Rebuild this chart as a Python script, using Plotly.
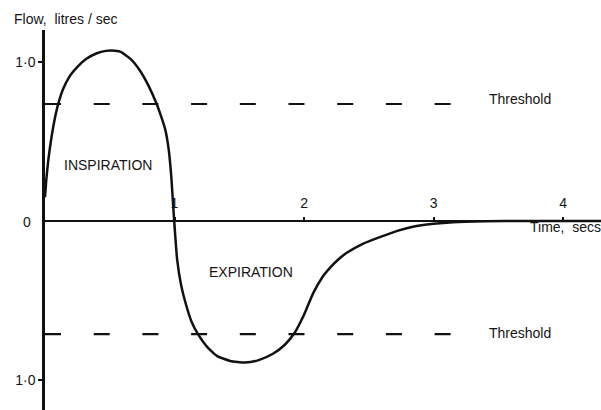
import plotly.graph_objects as go

# Flow-time curve (time in s, flow in litres/sec; expiration negative)
time_s = [0.0, 0.01, 0.025, 0.045, 0.07, 0.1, 0.14, 0.19, 0.25, 0.32, 0.4, 0.47, 0.515,
          0.58, 0.66, 0.73, 0.8, 0.86, 0.9, 0.93, 0.955, 0.975, 0.995, 1.02, 1.05, 1.08,
          1.13, 1.18, 1.25, 1.33, 1.43, 1.545, 1.65, 1.76, 1.85, 1.93, 2.0, 2.07, 2.14,
          2.2, 2.26, 2.33, 2.45, 2.59, 2.72, 2.84, 3.0, 3.15, 3.4, 3.7, 4.3]
flow = [0.15, 0.26, 0.38, 0.5, 0.62, 0.73, 0.83, 0.91, 0.97, 1.02, 1.055, 1.07, 1.072,
        1.065, 1.02, 0.95, 0.85, 0.74, 0.65, 0.57, 0.45, 0.28, 0.03, -0.24, -0.40, -0.50,
        -0.63, -0.71, -0.79, -0.85, -0.88, -0.89, -0.875, -0.835, -0.78, -0.70, -0.59,
        -0.455, -0.355, -0.295, -0.245, -0.20, -0.145, -0.10, -0.062, -0.036, -0.018,
        -0.008, -0.002, 0.0, 0.0]

threshold_in = 0.736
threshold_ex = -0.711
threshold_span = [0.0, 3.14]

x_ticks = [1, 2, 3, 4]
x_ticklabels = ["1", "2", "3", "4"]
y_ticks = [1.0, -1.0]
y_ticklabels = ["1·0", "1·0"]

x_range = [0, 4.293]
y_range = [-1.1887, 1.2013]
zero_frac = (0 - y_range[0]) / (y_range[1] - y_range[0])

FONT = "Liberation Sans, Arial, sans-serif"
INK = "#111111"
TXT = "#141414"

fig = go.Figure()

dash = "16px,32.7px"
for th in (threshold_in, threshold_ex):
    fig.add_trace(go.Scatter(x=threshold_span, y=[th, th], mode="lines",
                             line=dict(color=INK, width=2.2, dash=dash),
                             hoverinfo="skip", showlegend=False))

fig.add_trace(go.Scatter(x=time_s, y=flow, mode="lines",
                         line=dict(color=INK, width=2.5, shape="spline", smoothing=0.5),
                         showlegend=False))

ann_font = dict(family=FONT, size=14, color=TXT)
annotations = [
    dict(x=0.483, y=0.352, text="INSPIRATION", xanchor="center", yanchor="middle"),
    dict(x=1.587, y=-0.32, text="EXPIRATION", xanchor="center", yanchor="middle"),
    dict(x=3.413, y=0.767, text="Threshold", xanchor="left", yanchor="middle"),
    dict(x=3.413, y=-0.704, text="Threshold", xanchor="left", yanchor="middle"),
]
for a in annotations:
    a.update(xref="x", yref="y", showarrow=False, font=ann_font)

paper_ann = [
    dict(x=-0.0594, y=1.0289, text="Flow,&nbsp; litres / sec", xanchor="left",
         yanchor="middle", font=dict(family=FONT, size=14, color=TXT)),
    dict(x=-0.0216, y=0.4947, text="0", xanchor="right", yanchor="middle",
         font=dict(family=FONT, size=14, color=TXT)),
    dict(x=0.8687, y=0.4810, text="Time,&nbsp; secs", xanchor="left", yanchor="middle",
         font=dict(family=FONT, size=14, color=TXT)),
]
for a in paper_ann:
    a.update(xref="paper", yref="paper", showarrow=False)

fig.update_layout(
    width=601, height=410,
    margin=dict(l=45, r=0, t=30, b=0),
    paper_bgcolor="white", plot_bgcolor="white",
    annotations=annotations + paper_ann,
    xaxis=dict(range=x_range, showgrid=False, zeroline=False, showline=False,
               side="top", anchor="free", position=zero_frac,
               tickvals=x_ticks, ticktext=x_ticklabels, ticks="outside",
               ticklen=4, tickwidth=1.5, tickcolor=INK, ticklabelstandoff=3,
               tickfont=dict(family=FONT, size=14, color=TXT)),
    yaxis=dict(range=y_range, showgrid=False, zeroline=True, zerolinecolor=INK,
               zerolinewidth=2, showline=True, linecolor=INK, linewidth=2.5,
               tickvals=y_ticks, ticktext=y_ticklabels, ticks="outside",
               ticklen=4, tickwidth=1.5, tickcolor=INK,
               tickfont=dict(family=FONT, size=14, color=TXT)),
)

fig.write_html("out.html", config={"displayModeBar": False},
               post_script="document.body.style.margin='0';document.body.style.overflow='hidden';")
